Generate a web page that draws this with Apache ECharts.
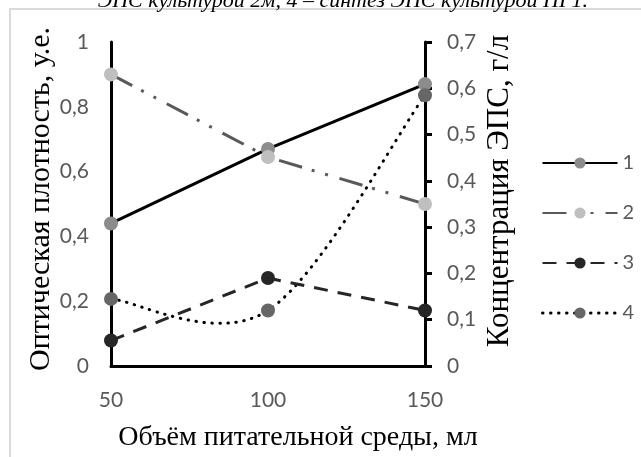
<!DOCTYPE html>
<html>
<head>
<meta charset="utf-8">
<script src="https://cdn.jsdelivr.net/npm/echarts@6/dist/echarts.min.js"></script>
<style>
html,body{margin:0;padding:0;background:#fff;}
#c{width:641px;height:457px;}
</style>
</head>
<body>
<div id="c"></div>
<script>
const categories = ['50', '100', '150'];
const series1 = [0.44, 0.67, 0.87];
const series2 = [0.9, 0.645, 0.5];
const series3 = [0.055, 0.19, 0.12];
const series4 = [0.145, 0.12, 0.585];
const legendNames = ['1', '2', '3', '4'];
const caption = 'ЭПС культурой 2м, 4 – синтез ЭПС культурой ПГ1.';
const xName = 'Объём питательной среды, мл';
const yLeftName = 'Оптическая плотность, у.е.';
const yRightName = 'Концентрация ЭПС, г/л';

const labelFont = 'Lato';
const serif = 'Liberation Serif';
const fmt = v => String(+v.toFixed(2)).replace('.', ',');

const dotted = {color: '#000', width: 3, type: [0.5, 7.5], cap: 'round'};

// Excel-style smoothed curve (Catmull-Rom, tension 1/6) through series4, via axis coords
function renderSmooth(params, api) {
  if (params.dataIndex !== 0) return null;
  const pts = series4.map((v, i) => api.coord([i, v]));
  const n = pts.length;
  const P = i => pts[Math.max(0, Math.min(n - 1, i))];
  let d = 'M' + pts[0][0] + ' ' + pts[0][1];
  for (let i = 0; i < n - 1; i++) {
    const p0 = P(i - 1), p1 = P(i), p2 = P(i + 1), p3 = P(i + 2);
    const c1 = [p1[0] + (p2[0] - p0[0]) / 6, p1[1] + (p2[1] - p0[1]) / 6];
    const c2 = [p2[0] - (p3[0] - p1[0]) / 6, p2[1] - (p3[1] - p1[1]) / 6];
    d += ' C' + c1[0] + ' ' + c1[1] + ' ' + c2[0] + ' ' + c2[1] + ' ' + p2[0] + ' ' + p2[1];
  }
  return {
    type: 'path',
    shape: {pathData: d},
    style: {fill: 'none', stroke: '#000', lineWidth: 3, lineDash: [0.5, 7.5], lineCap: 'round'}
  };
}

const chart = echarts.init(document.getElementById('c'), null, {renderer: 'canvas'});
chart.setOption({
  backgroundColor: '#fff',
  animation: false,
  graphic: [
    {type: 'rect', shape: {x: 10, y: 9, width: 700, height: 500},
     style: {fill: 'none', stroke: '#d9d9d9', lineWidth: 2}, silent: true},
    {type: 'text', x: 588, y: 1.5,
     style: {text: caption, font: 'italic 22px "Liberation Serif"', fill: '#000',
             textAlign: 'right', textVerticalAlign: 'middle'}}
  ],
  grid: {left: 111, right: 216, top: 42, bottom: 90, containLabel: false},
  legend: {
    orient: 'vertical', left: 536, top: 148,
    itemWidth: 75, itemHeight: 14, itemGap: 30,
    data: ['1', '2', '3', {name: '4', lineStyle: Object.assign({opacity: 1}, dotted)}],
    textStyle: {color: '#595959', fontSize: 20, fontFamily: labelFont, lineHeight: 20}
  },
  xAxis: {
    type: 'category', data: categories, boundaryGap: false,
    axisLine: {lineStyle: {color: '#000', width: 3}},
    axisTick: {show: false},
    axisLabel: {color: '#595959', fontSize: 21, fontFamily: labelFont, margin: 24},
    splitLine: {show: false},
    name: xName, nameLocation: 'middle', nameGap: 58,
    nameTextStyle: {color: '#000', fontSize: 28, fontFamily: serif, padding: [0, 0, 0, 60]}
  },
  yAxis: [
    {
      type: 'value', min: 0, max: 1, interval: 0.2, position: 'left',
      axisLine: {show: true, lineStyle: {color: '#000', width: 3}},
      axisTick: {show: false},
      splitLine: {show: false},
      axisLabel: {color: '#595959', fontSize: 21, fontFamily: labelFont, margin: 22, formatter: fmt},
      name: yLeftName, nameLocation: 'middle', nameRotate: 90, nameGap: 54,
      nameTextStyle: {color: '#000', fontSize: 30, fontFamily: serif, padding: [0, 0, 0, 10]}
    },
    {
      type: 'value', min: 0, max: 0.7, interval: 0.1, position: 'right',
      axisLine: {show: true, lineStyle: {color: '#000', width: 3}},
      axisTick: {show: true, inside: false, length: 7, lineStyle: {color: '#000', width: 3}},
      splitLine: {show: false},
      axisLabel: {color: '#595959', fontSize: 21, fontFamily: labelFont, margin: 22, formatter: fmt},
      name: yRightName, nameLocation: 'middle', nameRotate: 90, nameGap: 59,
      nameTextStyle: {color: '#000', fontSize: 31, fontFamily: serif, padding: [0, 0, 0, 26]}
    }
  ],
  series: [
    {
      name: 'curve4', type: 'custom', yAxisIndex: 1, coordinateSystem: 'cartesian2d',
      data: [[0, series4[0]]], renderItem: renderSmooth, silent: true
    },
    {
      name: '1', type: 'line', yAxisIndex: 0, data: series1,
      symbol: 'circle', symbolSize: 14,
      lineStyle: {color: '#000', width: 3},
      itemStyle: {color: '#8c8c8c'}
    },
    {
      name: '2', type: 'line', yAxisIndex: 0, data: series2,
      symbol: 'circle', symbolSize: 14,
      lineStyle: {color: '#595959', width: 3, type: [24, 10, 3, 11, 3, 12]},
      itemStyle: {color: '#bfbfbf'}
    },
    {
      name: '3', type: 'line', yAxisIndex: 1, data: series3,
      symbol: 'circle', symbolSize: 14,
      lineStyle: {color: '#262626', width: 3, type: [14, 10]},
      itemStyle: {color: '#262626'}
    },
    {
      name: '4', type: 'line', yAxisIndex: 1, data: series4,
      symbol: 'circle', symbolSize: 14,
      lineStyle: Object.assign({opacity: 0}, dotted),
      itemStyle: {color: '#666666'}
    }
  ]
});
</script>
</body>
</html>
